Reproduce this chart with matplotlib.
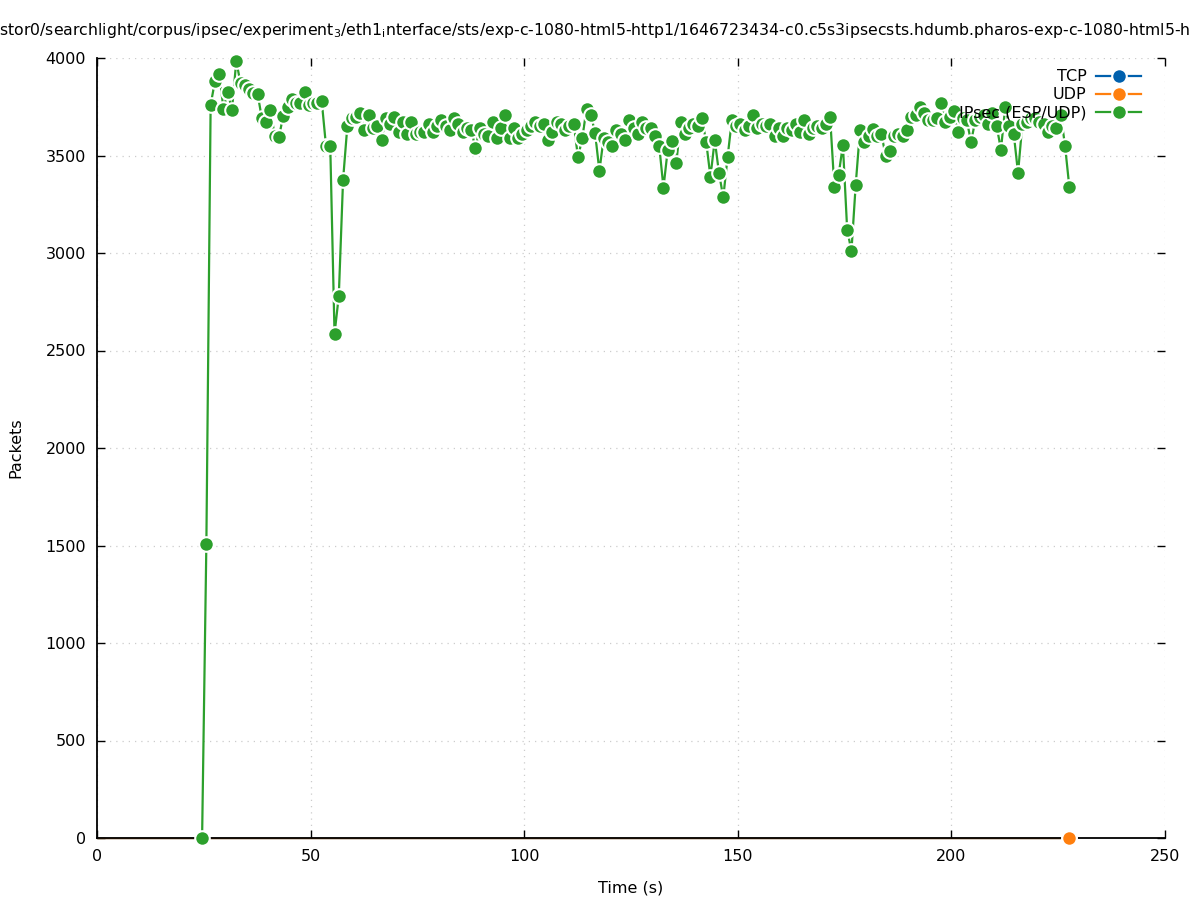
import matplotlib
matplotlib.use("Agg")
import matplotlib.pyplot as plt
from matplotlib.lines import Line2D
import numpy as np

# packet counts per second
ipsec_start = 24.6
ipsec_packets = [
    0, 1507, 3760, 3880, 3920, 3740, 3825, 3735, 3985, 3870,
    3860, 3840, 3820, 3815, 3690, 3670, 3735, 3600, 3595, 3705,
    3750, 3790, 3770, 3770, 3825, 3760, 3770, 3770, 3780, 3550,
    3550, 2585, 2780, 3375, 3650, 3690, 3700, 3720, 3630, 3710,
    3640, 3650, 3580, 3690, 3660, 3700, 3620, 3670, 3610, 3670,
    3610, 3620, 3620, 3660, 3620, 3650, 3680, 3650, 3630, 3690,
    3660, 3620, 3640, 3630, 3538, 3640, 3610, 3600, 3670, 3590,
    3640, 3710, 3590, 3640, 3590, 3610, 3630, 3650, 3670, 3650,
    3660, 3580, 3620, 3670, 3660, 3630, 3650, 3660, 3490, 3590,
    3740, 3710, 3615, 3420, 3590, 3570, 3550, 3630, 3610, 3580,
    3680, 3640, 3610, 3670, 3640, 3640, 3600, 3550, 3335, 3530,
    3575, 3460, 3670, 3610, 3640, 3660, 3650, 3690, 3570, 3390,
    3580, 3410, 3285, 3490, 3680, 3650, 3660, 3630, 3650, 3710,
    3640, 3660, 3650, 3660, 3600, 3640, 3600, 3640, 3630, 3660,
    3620, 3680, 3610, 3640, 3650, 3640, 3660, 3700, 3340, 3400,
    3555, 3120, 3010, 3350, 3630, 3570, 3600, 3635, 3600, 3610,
    3500, 3525, 3600, 3610, 3600, 3630, 3700, 3710, 3750, 3720,
    3680, 3680, 3690, 3770, 3670, 3700, 3730, 3620, 3690, 3680,
    3570, 3680, 3700, 3710, 3660, 3720, 3650, 3530, 3750, 3650,
    3610, 3410, 3660, 3670, 3690, 3690, 3670, 3660, 3620, 3650,
    3640, 3710, 3550, 3340,
]
tcp_time = [0.0, 227.6]
tcp_packets = [0, 0]
udp_time = [0.0, 227.6]
udp_packets = [0, 0]

labels = ["TCP", "UDP", "IPsec (ESP/UDP)"]
colors = ["#0060ad", "#ff7f0e", "#2ca02c"]

title = (r"stor0/searchlight/corpus/ipsec/experiment$_3$/eth1$_\mathregular{i}$nterface/sts/"
         r"exp-c-1080-html5-http1/1646723434-c0.c5s3ipsecsts.hdumb.pharos-exp-c-1080-html5-h")

plt.rcParams["font.family"] = "DejaVu Sans"
plt.rcParams["font.size"] = 11.5

fig = plt.figure(figsize=(11.97, 9.0), dpi=100)
ax = fig.add_axes([97 / 1197, 1 - 838 / 900, (1165 - 97) / 1197, (838 - 58) / 900])

ipsec_time = ipsec_start + np.arange(len(ipsec_packets)) * 1.0

style = dict(lw=1.6, marker="o", markersize=10.5, markeredgecolor="white", markeredgewidth=1.5)
dot = dict(marker="o", markersize=10.5, markeredgecolor="white", markeredgewidth=1.5, ls="none", clip_on=False)

# zero series sit under the bottom spine, only their last point shows
ax.plot(tcp_time, tcp_packets, color=colors[0], lw=1.0, clip_on=False, zorder=1)
ax.plot(udp_time, udp_packets, color=colors[1], lw=1.0, clip_on=False, zorder=1.5)
ax.plot(tcp_time[-1:], tcp_packets[-1:], color=colors[0], zorder=3, **dot)
ax.plot(udp_time[-1:], udp_packets[-1:], color=colors[1], zorder=3.5, **dot)
ax.plot(ipsec_time, ipsec_packets, color=colors[2], clip_on=False, zorder=5, **style)

ax.set_xlim(0, 250)
ax.set_ylim(0, 4000)
ax.set_xticks(np.arange(0, 251, 50))
ax.set_yticks(np.arange(0, 4001, 500))
ax.grid(True, color="#cccccc", linestyle=(0, (1, 4)), linewidth=0.9)
ax.set_axisbelow(True)
ax.tick_params(direction="in", length=6, width=1, top=True, right=True, pad=8)
for side in ["top", "right"]:
    ax.spines[side].set_visible(False)
for side in ["left", "bottom"]:
    ax.spines[side].set_linewidth(1.3)
    ax.spines[side].set_zorder(2)

ax.set_xlabel("Time (s)", labelpad=12)
ax.set_ylabel("Packets", labelpad=16)

handles = [Line2D([], [], color=c, **style) for c in colors]
ax.legend(handles, labels, loc="upper right", bbox_to_anchor=(0.988, 1.0), frameon=False, markerfirst=False,
          handlelength=2.8, labelspacing=0.2, handletextpad=0.6, borderaxespad=0.3)

fig.text(-0.001, 1 - 30 / 900, title, ha="left", va="center", fontsize=11.3)

fig.savefig("out.png", dpi=100)
